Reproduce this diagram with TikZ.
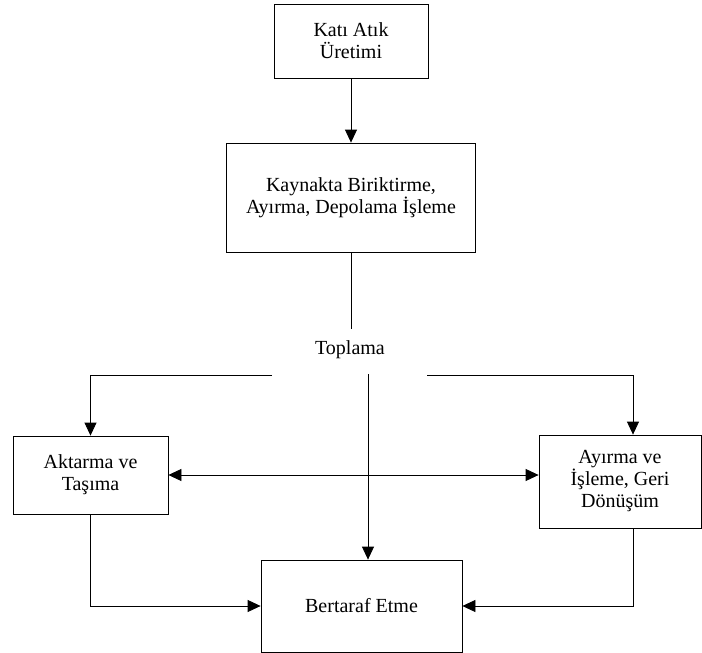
\documentclass[tikz,border=0pt]{standalone}
\usepackage{fontspec}
\setmainfont{Liberation Serif}
\usepackage{tikz}
\usetikzlibrary{arrows.meta}
\usetikzlibrary{positioning,calc}
\tikzset{
    every node/.style={font=\fontsize{20}{22}\selectfont},
    kutu/.style={
        draw,
        rectangle,
        align=center,
        inner sep=0pt,
        line width=0.8pt
    },
    ok/.style={
        draw,
        line width=0.8pt,
        -{Triangle[length=13pt, width=12pt]}
    }
}

\begin{document}
\begin{tikzpicture}[x=1pt,y=-1pt]
  \tikzset{
    hat/.style={
      draw,
      line width=0.8pt
    },
    ciftok/.style={
      draw,
      line width=0.8pt,
      {Triangle[length=13pt, width=12pt]}-{Triangle[length=13pt, width=12pt]}
    }
  }
  \useasboundingbox (0,0) rectangle (702,653);

  % Nodes
  \node[kutu, minimum width=154pt, minimum height=74pt] (uretim) at (351,41) {Katı Atık\\Üretimi};
  \node[kutu, minimum width=249pt, minimum height=109pt] (kaynak) at (351,197.5) {Kaynakta Biriktirme,\\Ayırma, Depolama İşleme};
  \node[anchor=base, inner sep=0pt] (toplama) at (350,354) {Toplama};
  \node[kutu, minimum width=155pt, minimum height=78pt] (aktarma) at (90.5,475) {Aktarma ve\\Taşıma};
  \node[kutu, minimum width=162pt, minimum height=93pt] (ayirma) at (620,481.5) {Ayırma ve\\İşleme, Geri\\Dönüşüm};
  \node[kutu, minimum width=201pt, minimum height=92pt] (bertaraf) at (361.5,606) {Bertaraf Etme};

  % Free ends
  \coordinate (topbit) at (351,329);
  \coordinate (solkol) at (272,375);
  \coordinate (sagkol) at (427,375);
  \coordinate (anabas) at (368,374);

  % Edges
  \draw[ok] (uretim.south) -- (kaynak.north);
  \draw[hat] (kaynak.south) -- (topbit);
  \draw[ok] (solkol) -| (aktarma.north);
  \draw[ok] (sagkol) -| ([xshift=13pt]ayirma.north);
  \draw[ok] (anabas) -- (anabas |- bertaraf.north);
  \draw[ciftok] (aktarma.east) -- (aktarma.east -| ayirma.west);
  \draw[ok] (aktarma.south) |- (bertaraf.west);
  \draw[ok] ([xshift=13pt]ayirma.south) |- (bertaraf.east);
\end{tikzpicture}
\end{document}
